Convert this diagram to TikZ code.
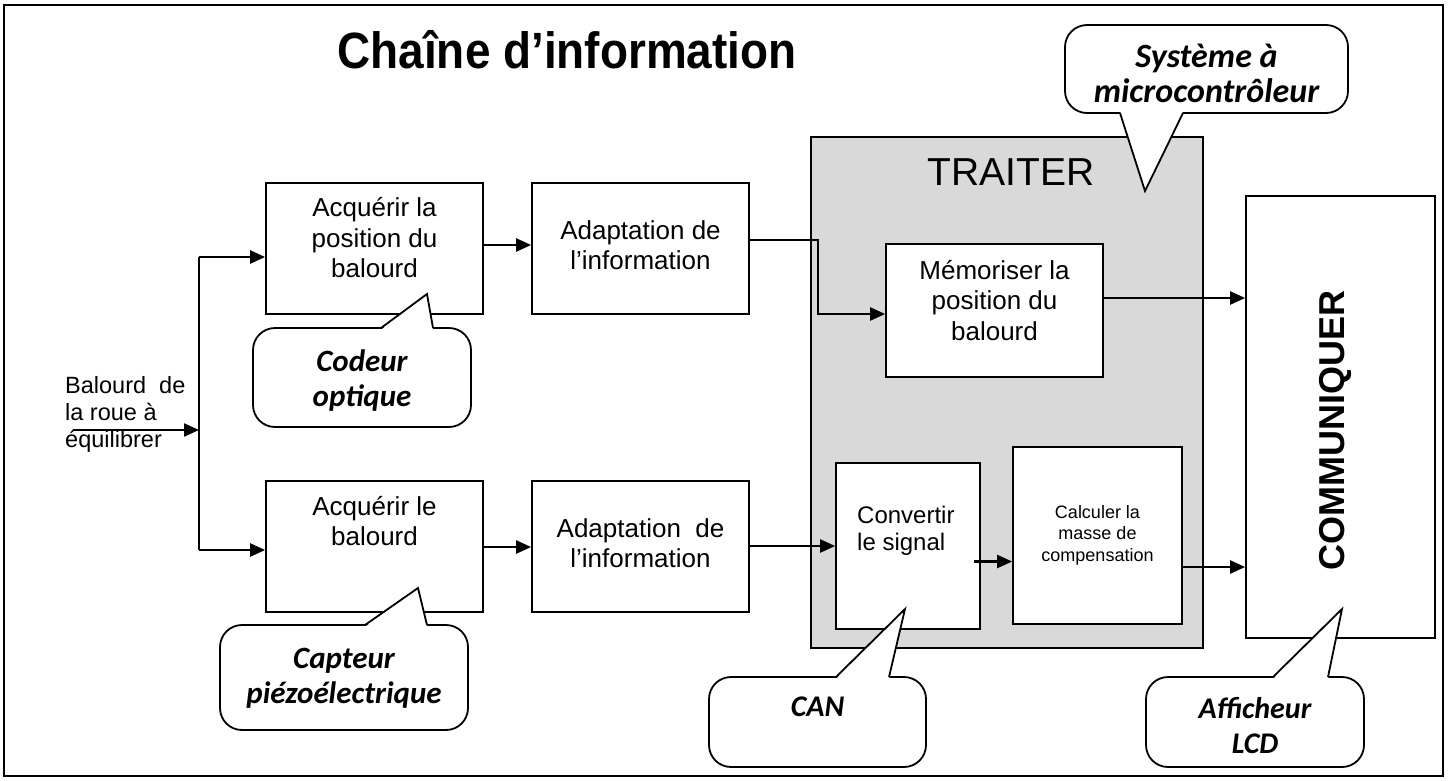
\documentclass[tikz,border=0pt]{standalone}
\usepackage{fontspec}
\setmainfont{Liberation Sans}
\newfontfamily\callfont{Carlito}
\usetikzlibrary{arrows.meta}
\definecolor{traitgray}{HTML}{D9D9D9}
\newcommand{\ptrfill}[5]{% base y, xl, xr, tip, inward shift
  \fill[white] (#2,#1+#5) -- #4 -- (#3,#1+#5) -- cycle;
  \draw[line width=1.8pt, line join=miter] (#2,#1) -- #4 -- (#3,#1);}
\begin{document}
\begin{tikzpicture}[x=1pt,y=-1pt,
  box/.style={draw, line width=1.7pt, fill=white, inner sep=0pt},
  txt/.style={align=center, font=\fontsize{26}{30.5}\selectfont, inner sep=0pt},
  arr/.style={line width=2.3pt, -{Triangle[length=15pt,width=13pt]}},
  ln/.style={line width=2.3pt},
  calltxt/.style={align=center, font=\callfont\bfseries\itshape\fontsize{31}{35}\selectfont, inner sep=0pt},
  bubble/.style={draw, line width=1.8pt, fill=white, rounded corners=22pt, inner sep=0pt}
]
\useasboundingbox (0,0) rectangle (1450,780);
% outer frame
\draw[line width=1.7pt] (4,5) rectangle (1443,776);
% title
\node[font=\bfseries\fontsize{51}{54}\selectfont, inner sep=0pt, xscale=0.9] (title) at (567,50) {Chaîne d’information};

% TRAITER region
\node[draw, line width=1.7pt, fill=traitgray, minimum width=392pt, minimum height=511pt, inner sep=0pt] (traiter) at (1007,392.5) {};
\node[font=\fontsize{39}{42}\selectfont, inner sep=0pt] (traitertxt) at (1011,172) {TRAITER};

% boxes
\node[box, minimum width=217pt, minimum height=131pt] (a1) at (374.5,248.5) {};
\node[box, minimum width=217pt, minimum height=131pt] (a2) at (640.5,248.5) {};
\node[box, minimum width=217pt, minimum height=131pt] (b1) at (374.5,546.5) {};
\node[box, minimum width=217pt, minimum height=131pt] (b2) at (640.5,546.5) {};
\node[box, minimum width=217pt, minimum height=133pt] (mem) at (994.5,310.5) {};
\node[box, minimum width=144pt, minimum height=166pt] (conv) at (908,546) {};
\node[box, minimum width=169pt, minimum height=177pt] (calc) at (1097.5,535.5) {};
\node[box, minimum width=189pt, minimum height=442pt] (comm) at (1340.5,417) {};

% texts in boxes
\node[txt] (a1t) at (374.5,238) {Acquérir la\\position du\\balourd};
\node[txt] (a2t) at (640.5,245) {Adaptation de\\l’information};
\node[txt] (b1t) at (374.5,521) {Acquérir le\\balourd};
\node[txt] (b2t) at (640.5,543) {Adaptation~ de\\l’information};
\node[txt] (memt) at (994.5,300.5) {Mémoriser la\\position du\\balourd};
\node[txt, align=left, anchor=west, font=\fontsize{24}{27}\selectfont] (convt) at (857,530.5) {Convertir\\le signal};
\node[txt, font=\fontsize{18}{21.5}\selectfont] (calct) at (1097.5,535) {Calculer la\\masse de\\compensation};
\node[font=\bfseries\fontsize{36}{38}\selectfont, rotate=90, inner sep=0pt] (commt) at (1335,430) {COMMUNIQUER};
\node[align=left, anchor=west, font=\fontsize{23.5}{27}\selectfont, inner sep=0pt] (input) at (65,414) {Balourd~ de\\la roue à\\équilibrer};

% connectors
\coordinate (in0) at (73,430);
\coordinate (j) at (199,430);
\coordinate (jt) at (199,257);
\coordinate (jb) at (199,550);
\draw[arr] (in0) -- (j);
\draw[ln] (jt) -- (jb);
\draw[arr] (jt) -- (a1.west |- jt);
\draw[arr] (jb) -- (b1.west |- jb);
\draw[arr] ([yshift=3.5pt]a1.east) -- ([yshift=3.5pt]a2.west);
\coordinate (k0) at ([yshift=8.5pt]a2.east);
\coordinate (k1) at (818,240);
\coordinate (k2) at (818,314);
\draw[arr, line join=miter] (k0) -- (k1) -- (k2) -- (mem.west |- k2);
\draw[arr] ([yshift=-0.5pt]b1.east) -- ([yshift=-0.5pt]b2.west);
\draw[arr] (b2.east |- conv.west) -- (conv.west);
\coordinate (c0) at ([xshift=-7pt,yshift=-15.5pt]conv.east);
\draw[arr] (c0) -- (calc.west |- c0);
\coordinate (m0) at ([yshift=12.5pt]mem.east);
\draw[arr] (m0) -- (comm.west |- m0);
\coordinate (d0) at ([yshift=-31.5pt]calc.east);
\draw[arr] (d0) -- (comm.west |- d0);

% callouts
\node[bubble, minimum width=218pt, minimum height=99pt] (cod) at (362,377.5) {};
\ptrfill{328}{381}{433}{(427,294)}{1.8}
\node[calltxt] (codt) at (362,381) {Codeur\\optique};

\node[bubble, minimum width=248pt, minimum height=105pt] (cap) at (344,677.5) {};
\ptrfill{625}{365}{427}{(418,588)}{1.8}
\node[calltxt] (capt) at (344,678) {Capteur\\piézoélectrique};

\node[bubble, minimum width=217pt, minimum height=90pt] (can) at (817.5,722) {};
\ptrfill{677}{836}{889}{(905,609)}{1.8}
\node[calltxt, font=\callfont\bfseries\itshape\fontsize{30}{35}\selectfont] (cant) at (817.5,707) {CAN};

\node[bubble, minimum width=218pt, minimum height=90pt] (aff) at (1255,722) {};
\ptrfill{677}{1273}{1328}{(1342,609)}{1.8}
\node[calltxt, font=\callfont\bfseries\itshape\fontsize{30}{35}\selectfont] (afft) at (1255,726) {Afficheur\\LCD};

\node[bubble, minimum width=283pt, minimum height=88pt] (sys) at (1206.5,69) {};
\ptrfill{113}{1120}{1183}{(1145,191)}{-1.8}
\node[calltxt, font=\callfont\bfseries\itshape\fontsize{34}{35}\selectfont] (syst) at (1206.5,73) {Système à\\microcontrôleur};
\end{tikzpicture}
\end{document}
